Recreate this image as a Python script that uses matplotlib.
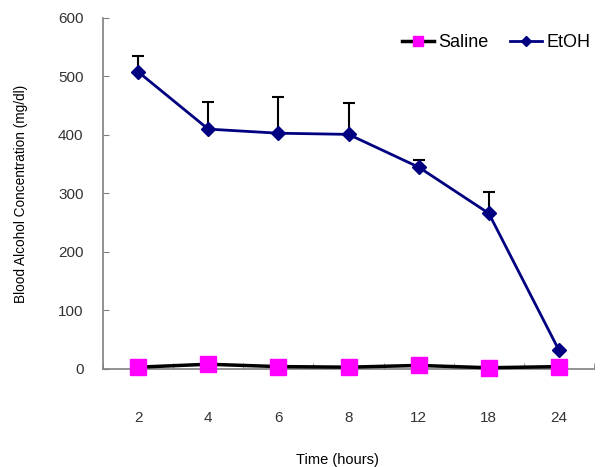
import matplotlib
matplotlib.use("Agg")
import matplotlib.pyplot as plt
import numpy as np

plt.rcParams['font.family'] = ['Liberation Sans', 'DejaVu Sans']

hours = ['2', '4', '6', '8', '12', '18', '24']
saline = [3, 8, 4, 3, 6, 2, 4]
etoh = [508, 410, 403, 401, 345, 266, 32]
etoh_err = [27, 46, 62, 54, 12, 36, 0]

x = np.arange(len(hours))

fig = plt.figure(figsize=(6, 4.67), dpi=100)
ax = fig.add_axes([0.1717, 0.21, 0.8183, 0.7515])

ax.errorbar(x, etoh, yerr=[np.zeros(len(etoh)), etoh_err], fmt='none',
            ecolor='black', elinewidth=1.5, capsize=4, capthick=1.5, zorder=2)
ax.plot(x, etoh, color='#000080', lw=2, marker='D', ms=7, label='EtOH', zorder=3,
        clip_on=False)
ax.plot(x, saline, color='black', lw=2.5, marker='s', ms=11, mfc='#ff00ff',
        mec='#ff00ff', label='Saline', zorder=4, clip_on=False)

ax.set_xlim(-0.5, len(hours) - 0.5)
ax.set_ylim(0, 600)
ax.set_yticks(range(0, 601, 100))
ax.set_xticks(x)
ax.set_xticklabels(hours)
ax.set_xticks(np.arange(-0.5, len(hours), 1), minor=True)

for s in ['top', 'right']:
    ax.spines[s].set_visible(False)
for s in ['left', 'bottom']:
    ax.spines[s].set_color('#808080')
    ax.spines[s].set_linewidth(1.2)

ax.tick_params(axis='x', which='major', length=0, pad=30, labelsize=11, labelcolor='#333333')
ax.tick_params(axis='x', which='minor', direction='in', length=4, color='#808080')
ax.tick_params(axis='y', direction='in', length=4, color='#808080', pad=14,
               labelsize=11, labelcolor='#333333')

ax.set_ylabel('Blood Alcohol Concentration (mg/dl)', fontsize=9.8, labelpad=22)
fig.text(337 / 600, 1 - 460 / 467, 'Time (hours)', ha='center', va='center', fontsize=10.5)

h, l = ax.get_legend_handles_labels()
ax.legend(h[::-1], l[::-1], loc='upper right', bbox_to_anchor=(1.025, 1.0), ncol=2,
          frameon=False, fontsize=13, handlelength=1.8, handletextpad=0.2,
          columnspacing=1.2, markerscale=0.7)

fig.savefig('out.png', dpi=100)
